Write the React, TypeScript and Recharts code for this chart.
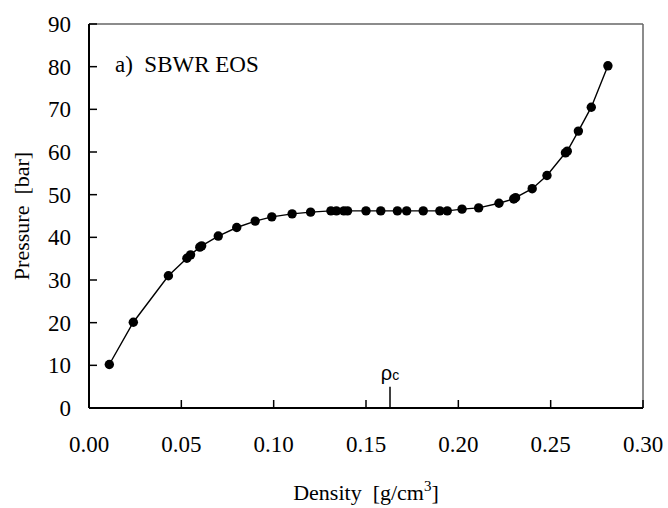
import { LineChart, Line, XAxis, YAxis, ReferenceLine, ReferenceDot } from 'recharts'

const density = [0.011, 0.024, 0.043, 0.053, 0.055, 0.060, 0.061, 0.070, 0.080, 0.090, 0.099, 0.110, 0.120, 0.131, 0.134, 0.138, 0.140, 0.150, 0.158, 0.167, 0.172, 0.181, 0.190, 0.194, 0.202, 0.211, 0.222, 0.230, 0.231, 0.240, 0.248, 0.258, 0.259, 0.265, 0.272, 0.281]
const pressure = [10.2, 20.1, 31.0, 35.1, 35.9, 37.7, 38.0, 40.3, 42.3, 43.8, 44.8, 45.5, 45.9, 46.2, 46.2, 46.2, 46.2, 46.2, 46.2, 46.2, 46.2, 46.2, 46.2, 46.2, 46.6, 46.9, 48.0, 49.0, 49.3, 51.4, 54.5, 59.8, 60.2, 64.9, 70.5, 80.2]
const xTicks = [0, 0.05, 0.1, 0.15, 0.2, 0.25, 0.3]
const yTicks = [0, 10, 20, 30, 40, 50, 60, 70, 80, 90]
const rhoC = 0.163
const rhoCTickTop = 5

const data = density.map((d, i) => ({ density: d, pressure: pressure[i] }))

const FONT = '"Liberation Serif", "Times New Roman", serif'
const serif = { fontFamily: FONT, fontSize: 22, fill: '#000', whiteSpace: 'pre' } as const
const tickFont = { ...serif, fontSize: 23 }
const X_MARGIN = 44
const Y_MARGIN = 18
const TICK_LEN = 8

function XTick(props: any) {
  const { x, y, payload } = props
  const axisY = y - X_MARGIN
  return <g>
    <line x1={x} x2={x} y1={axisY} y2={axisY - TICK_LEN} stroke="#000" strokeWidth={1.5} />
    <text x={x} y={y} textAnchor="middle" style={tickFont}>{payload.value.toFixed(2)}</text>
  </g>
}

function YTick(props: any) {
  const { x, y, payload } = props
  const axisX = x + Y_MARGIN
  return <g>
    <line x1={axisX} x2={axisX + TICK_LEN} y1={y} y2={y} stroke="#000" strokeWidth={1.5} />
    <text x={x} y={y + 8} textAnchor="end" style={tickFont}>{payload.value}</text>
  </g>
}

export default function App() {
  return <div style={{ position: 'absolute', left: 0, top: 0, background: '#fff' }}>
    <LineChart width={668} height={508} data={data} margin={{ top: 24, right: 25, left: 0, bottom: 40 }}>
      <XAxis type="number" dataKey="density" domain={[0, 0.3]} ticks={xTicks} interval={0}
        axisLine={{ stroke: '#000', strokeWidth: 2 }} tickLine={false} tickSize={0} tickMargin={X_MARGIN}
        tick={<XTick />} height={60}
        label={{
          content: (p: any) => {
            const vb = p.viewBox
            return <text x={vb.x + vb.width / 2} y={500} textAnchor="middle" style={serif} xmlSpace="preserve">
              {'Density  [g/cm'}<tspan dy={-9} style={{ fontSize: 15 }}>3</tspan><tspan dy={9}>]</tspan>
            </text>
          }
        }} />
      <YAxis type="number" domain={[0, 90]} ticks={yTicks} interval={0} width={89}
        axisLine={{ stroke: '#000', strokeWidth: 2 }} tickLine={false} tickSize={0} tickMargin={Y_MARGIN}
        tick={<YTick />}
        label={{
          content: (p: any) => {
            const vb = p.viewBox
            const cy = vb.y + vb.height / 2
            return <text x={29} y={cy} transform={`rotate(-90 29 ${cy})`} textAnchor="middle" style={serif} xmlSpace="preserve">{'Pressure  [bar]'}</text>
          }
        }} />
      <ReferenceLine y={90} stroke="#666" strokeWidth={1.5} />
      <ReferenceLine x={0.3} stroke="#666" strokeWidth={1.5} />
      <ReferenceLine segment={[{ x: rhoC, y: 0 }, { x: rhoC, y: rhoCTickTop }]} stroke="#000" strokeWidth={1.5} />
      <ReferenceDot x={rhoC} y={rhoCTickTop} r={0} fill="none" stroke="none"
        label={{
          content: (p: any) => {
            const vb = p.viewBox
            return <text x={vb.x} y={vb.y - 7} textAnchor="middle" style={{ fontFamily: '"Liberation Sans", Arial, sans-serif', fontSize: 20, fill: '#000' }}>
              ρ<tspan style={{ fontSize: 14 }}>c</tspan>
            </text>
          }
        }} />
      <ReferenceDot x={0} y={90} r={0} fill="none" stroke="none"
        label={{
          content: (p: any) => {
            const vb = p.viewBox
            return <text x={vb.x + 26} y={vb.y + 48} style={tickFont} xmlSpace="preserve">{'a)  SBWR EOS'}</text>
          }
        }} />
      <Line type="linear" dataKey="pressure" stroke="#000" strokeWidth={1.4}
        dot={{ r: 4.7, fill: '#000', stroke: '#000', strokeWidth: 0 }} isAnimationActive={false} />
    </LineChart>
  </div>
}
